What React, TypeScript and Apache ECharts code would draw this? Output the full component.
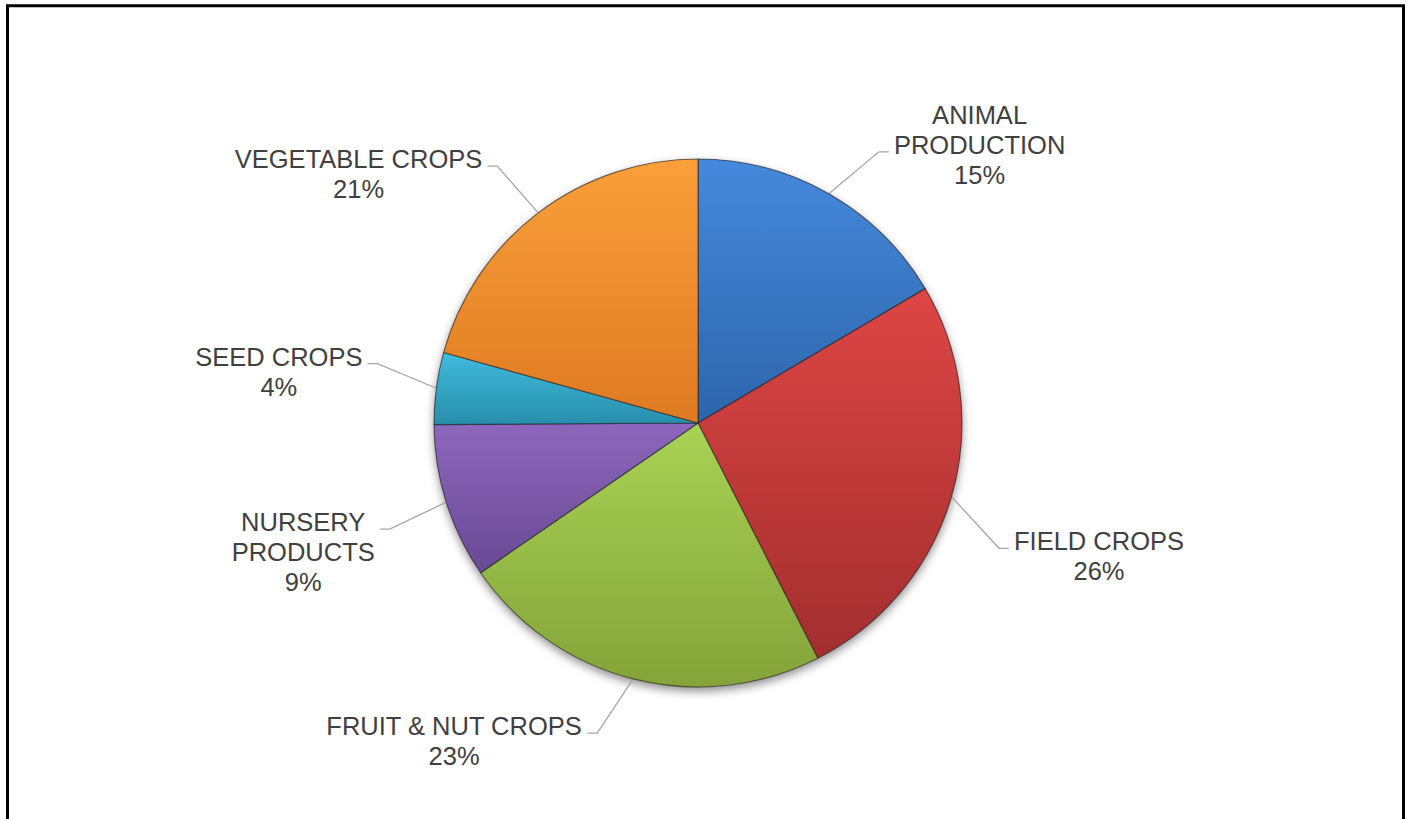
import React, { useEffect, useRef } from 'react';
import * as echarts from 'echarts';

// ---- data ----
const categories = [
  'ANIMAL\nPRODUCTION',
  'FIELD CROPS',
  'FRUIT & NUT CROPS',
  'NURSERY\nPRODUCTS',
  'SEED CROPS',
  'VEGETABLE CROPS',
];
// angular share of each slice, read from the slice boundaries
const sliceShares = [16.5, 26.0, 22.9, 9.5, 4.4, 20.7];
// percentages printed in the labels
const labelPercents = [15, 26, 23, 9, 4, 21];

// ---- styling ----
const sliceColors = [
  ['#4589dc', '#2d65ab'],
  ['#dd4644', '#a32e2e'],
  ['#a8d254', '#84a339'],
  ['#8d67bd', '#684994'],
  ['#41bbdd', '#278eab'],
  ['#fa9f3a', '#df7a22'],
];
const leaderAngle = [33.7, 112.6, 198, 251, 280.5, 322];
const attachLine = [1, 0, 0, 0, 0, 0];

const CX = 698;
const CY = 423;
const R = 264;
const LEADER_R = 326;
const LINE_H = 30;

export default function App() {
  const ref = useRef<HTMLDivElement>(null);
  useEffect(() => {
    if (!ref.current) return;
    const chart = echarts.init(ref.current, undefined, { renderer: 'svg' });
    const total = sliceShares.reduce((a, b) => a + b, 0);
    const data = categories.map((name, i) => ({
      name,
      value: sliceShares[i],
      itemStyle: {
        color: new echarts.graphic.LinearGradient(0, 0, 0, 1, [
          { offset: 0, color: sliceColors[i][0] },
          { offset: 1, color: sliceColors[i][1] },
        ]),
      },
    }));
    const option: any = {
      animation: false,
      backgroundColor: '#ffffff',
      graphic: [
        {
          type: 'rect',
          shape: { x: 7.5, y: 5.8, width: 1396, height: 1000 },
          style: { fill: 'none', stroke: '#000000', lineWidth: 3 },
          silent: true,
          z: 10,
        },
      ],
      series: [
        {
          type: 'pie',
          center: [CX, CY],
          radius: R,
          silent: true,
          z: 1,
          label: { show: false },
          labelLine: { show: false },
          data: [
            {
              value: 1,
              itemStyle: {
                color: '#777777',
                shadowBlur: 10,
                shadowOffsetY: 4,
                shadowColor: 'rgba(0,0,0,0.45)',
              },
            },
          ],
        },
        {
          type: 'pie',
          center: [CX, CY],
          radius: R,
          startAngle: 90,
          clockwise: true,
          z: 2,
          avoidLabelOverlap: false,
          itemStyle: {
            borderColor: 'rgba(30,30,30,0.55)',
            borderWidth: 1.2,
          },
          label: {
            show: true,
            position: 'outside',
            color: '#404040',
            fontSize: 25.5,
            lineHeight: LINE_H,
            fontFamily: 'Liberation Sans, Arial, sans-serif',
            formatter: (p: any) => `${p.name}\n${labelPercents[p.dataIndex]}%`,
          },
          labelLine: {
            show: true,
            length: 20,
            length2: 10,
            lineStyle: { color: '#a6a6a6', width: 1.3 },
          },
          labelLayout: (params: any) => {
            const i = params.dataIndex;
            let before = 0;
            for (let k = 0; k < i; k++) before += sliceShares[k];
            const mid = ((before + sliceShares[i] / 2) / total) * 2 * Math.PI;
            const sx = CX + R * Math.sin(mid);
            const sy = CY - R * Math.cos(mid);
            const a = (leaderAngle[i] * Math.PI) / 180;
            const bx = CX + LEADER_R * Math.sin(a);
            const by = CY - LEADER_R * Math.cos(a);
            const right = Math.sin(a) > 0;
            const ex = bx + (right ? 10 : -10);
            const ey = by;
            const w = params.labelRect.width;
            const x = right ? ex + 5 + w / 2 : ex - 5 - w / 2;
            const y = ey - 7 - LINE_H / 2 - attachLine[i] * LINE_H;
            return {
              x,
              y,
              align: 'center',
              verticalAlign: 'top',
              labelLinePoints: [
                [sx, sy],
                [bx, by],
                [ex, ey],
              ],
            };
          },
          data,
        },
      ],
    };
    chart.setOption(option);
    return () => chart.dispose();
  }, []);
  return (
    <div
      ref={ref}
      style={{ position: 'fixed', left: 0, top: 0, width: 1408, height: 819, background: '#fff' }}
    />
  );
}
